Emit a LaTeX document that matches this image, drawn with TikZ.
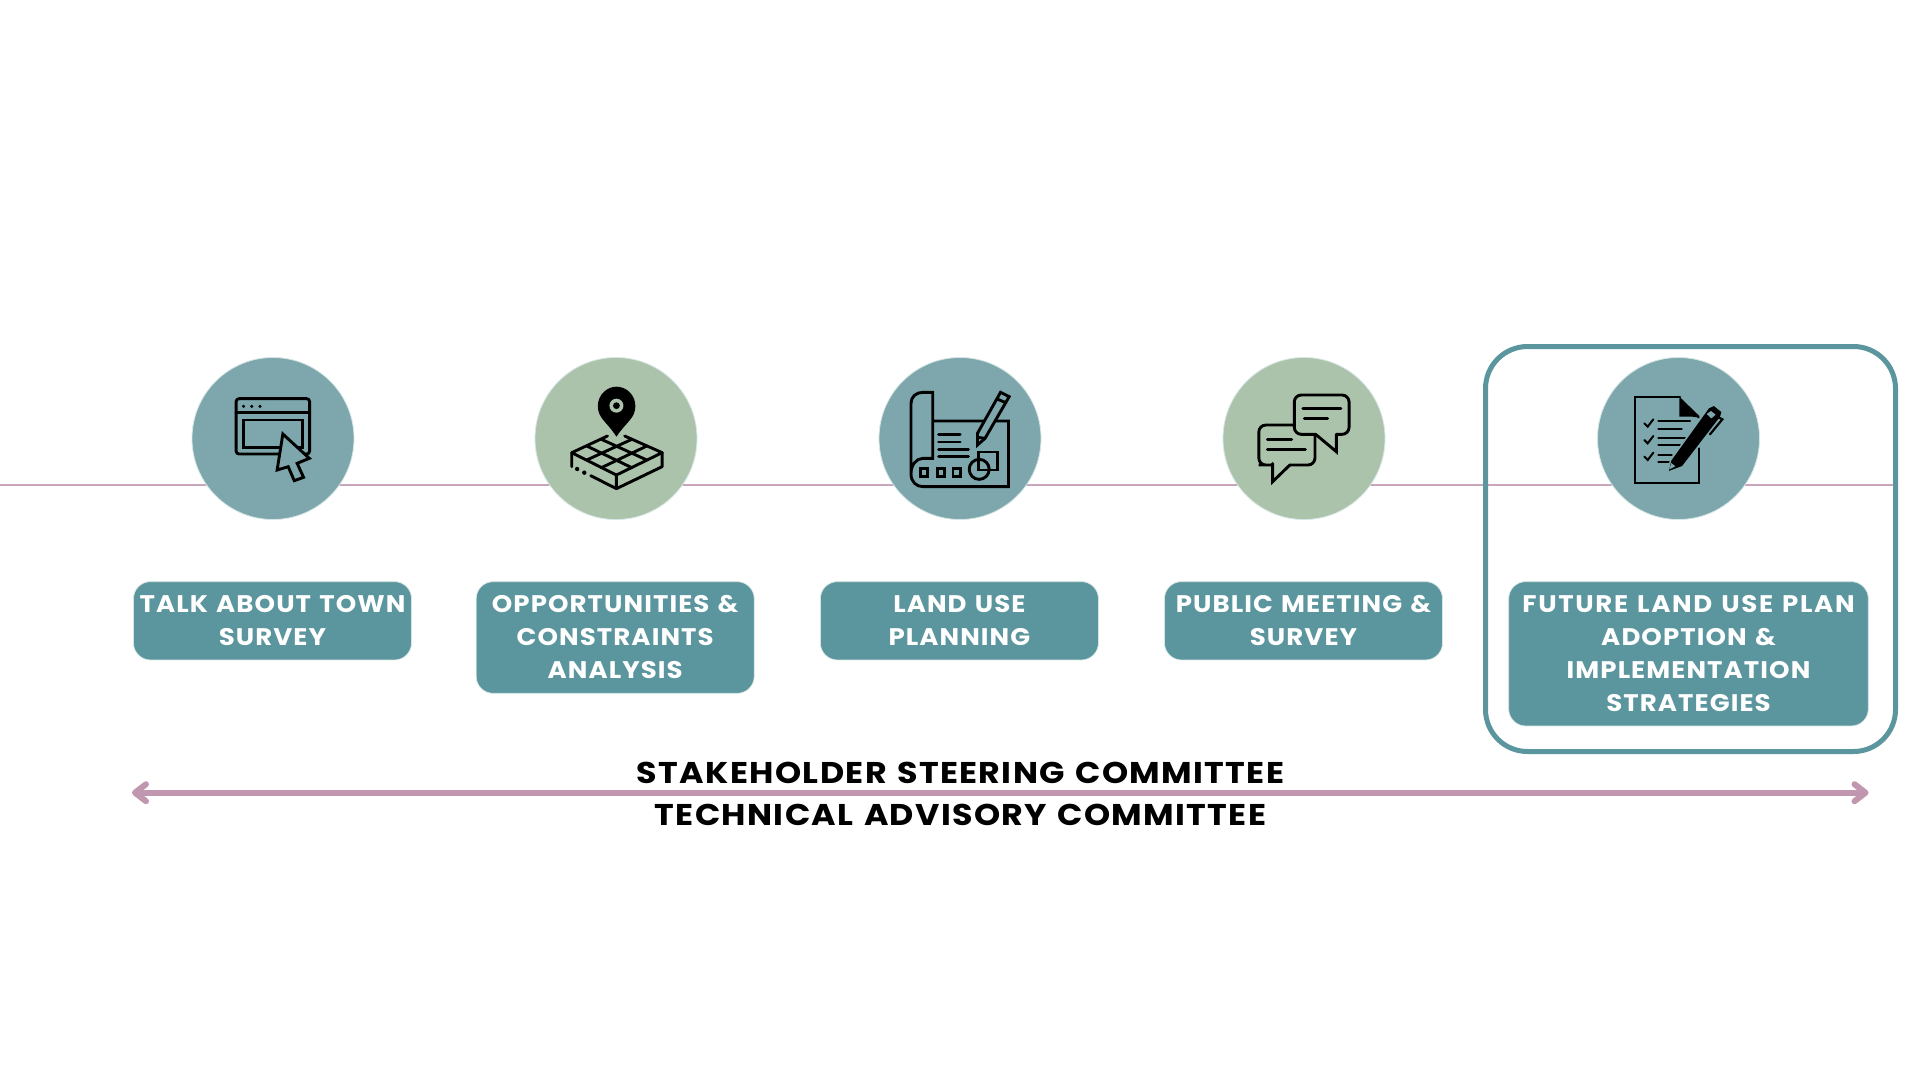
\documentclass[tikz,border=0pt]{standalone}
\usepackage{fontspec}
\usetikzlibrary{arrows.meta}
\newfontfamily\boxfont[LetterSpace=4.5,FakeStretch=1.085,WordSpace=1.25]{Poppins}
\newfontfamily\wideboxfont[LetterSpace=7,FakeStretch=1.085,WordSpace=1.25]{Poppins}
\newfontfamily\barfont[LetterSpace=4.5,FakeStretch=1.11,WordSpace=1.25]{Poppins}
\newcommand\capst{\rule[-3.7pt]{0pt}{24pt}}
\definecolor{tealc}{HTML}{7DA7AC}
\definecolor{greenc}{HTML}{ACC3AB}
\definecolor{boxc}{HTML}{5B959E}
\definecolor{rimc}{HTML}{D5E6E4}
\definecolor{linec}{HTML}{C9A6BC}
\definecolor{arrowc}{HTML}{C197AF}
\tikzset{
 stepcircle/.style={circle,minimum size=162pt,inner sep=0pt,draw=rimc,line width=0.8pt},
 stepbox/.style={rectangle,rounded corners=17pt,fill=boxc,draw=rimc,line width=0.7pt,inner sep=0pt,minimum width=278pt,
   text=white,align=center,font=\boxfont\bfseries\fontsize{24pt}{33pt}\selectfont},
 commlabel/.style={inner sep=0pt,font=\barfont\bfseries\fontsize{30pt}{34pt}\selectfont,text=black},
 ink/.style={draw=black,line width=2.9pt,line join=round,line cap=round},
 thinink/.style={draw=black,line width=2.2pt,line join=miter,line cap=round},
}
\begin{document}
\begin{tikzpicture}[x=1pt,y=-1pt]
\useasboundingbox (0,0) rectangle (1920,1080);
\fill[white] (0,0) rectangle (1920,1080);
\coordinate (ls) at (0,484.8);
\coordinate (le) at (1897,484.8);
\draw[linec,line width=2pt] (ls) -- (le);
\draw[boxc,line width=5pt,rounded corners=42pt] (1485.5,346.5) rectangle (1895.5,751.5);
\node[stepcircle,fill=tealc] (c1) at (273,438.5) {};
\node[stepcircle,fill=greenc] (c2) at (616,438.5) {};
\node[stepcircle,fill=tealc] (c3) at (960,438.5) {};
\node[stepcircle,fill=greenc] (c4) at (1304,438.5) {};
\node[stepcircle,fill=tealc] (c5) at (1678.5,438.5) {};
\node[stepbox,minimum height=78.3pt] (b1) at (272.5,620.8) {\capst TALK ABOUT TOWN\\\capst SURVEY};
\node[stepbox,minimum height=111.6pt] (b2) at (615.2,637.5) {\capst OPPORTUNITIES \&\\CONSTRAINTS\\\capst ANALYSIS};
\node[stepbox,minimum height=78.3pt] (b3) at (959.4,620.8) {\capst LAND USE\\\capst PLANNING};
\node[stepbox,minimum height=78.3pt] (b4) at (1303.5,620.8) {\capst PUBLIC MEETING \&\\\capst SURVEY};
\node[stepbox,minimum height=144.3pt,minimum width=359.6pt] (b5) at (1688.5,653.8) {\capst{\wideboxfont\bfseries FUTURE LAND USE PLAN}\\ADOPTION \&\\IMPLEMENTATION\\\capst STRATEGIES};
\coordinate (al) at (132,792.7);
\coordinate (ar) at (1868.5,792.7);
\draw[arrowc,line width=6pt,{Straight Barb[length=11pt,width=17pt,round]}-{Straight Barb[length=11pt,width=17pt,round]}] (al) -- (ar);
\node[commlabel] (t1) at (960.5,772.5) {STAKEHOLDER STEERING COMMITTEE};
\node[commlabel] (t2) at (960.5,814.5) {TECHNICAL ADVISORY COMMITTEE};
% icon 1: browser and cursor
\begin{scope}[shift={(180,350)},x=0.35714pt,y=-0.33333pt]
\draw[ink,rounded corners=3pt] (157,146) rectangle (363,312);
\draw[ink] (157,187) -- (363,187);
\fill (178,169) circle[radius=1.7pt] (201,169) circle[radius=1.7pt] (224,169) circle[radius=1.7pt];
\draw[ink,line join=miter] (178,210) rectangle (342,292);
\draw[ink,fill=tealc,line join=miter] (288,252) -- (362,325) -- (328,340) -- (346,382) -- (320,392) -- (303,350) -- (272,360) -- cycle;
\end{scope}
% icon 2: pin on a grid block
\begin{scope}[shift={(180,350)},x=0.35714pt,y=-0.33333pt]
\fill[black] (1222,260) .. controls (1195,215) and (1170,205) .. (1170,168) .. controls (1170,135) and (1195,110) .. (1222,110) .. controls (1250,110) and (1275,135) .. (1275,168) .. controls (1275,205) and (1250,215) .. (1222,260) -- cycle;
\fill[greenc] (1222,167) circle[radius=7pt];
\fill[black] (1222,167) circle[radius=3.4pt];
\draw[ink] (1197,258) -- (1097,308) -- (1222,375) -- (1350,308) -- (1245,258);
\draw[ink] (1139,288) -- (1265,353) (1180,268) -- (1307,330) (1139,330) -- (1265,268) (1180,353) -- (1307,288);
\draw[ink] (1097,308) -- (1097,350) (1150,377) -- (1222,416) -- (1350,350) -- (1350,308) (1222,375) -- (1222,416);
\fill (1112,357) circle[radius=2.2pt] (1132,368) circle[radius=2.2pt];
\end{scope}
% icon 3: plan and pencil
\begin{scope}[shift={(880,350)},x=0.34439pt,y=-0.33333pt]
\draw[ink,line join=miter] (153,213) -- (373,213) -- (373,410) -- (125,410) .. controls (105,410) and (90,395) .. (90,372) -- (90,160) .. controls (90,140) and (105,127) .. (125,127) -- (153,127) -- (153,325) -- (125,325) .. controls (105,325) and (90,345) .. (90,372);
\draw[ink] (170,253) -- (233,253) (170,276) -- (233,276) (170,298) -- (257,298) (170,320) -- (257,320);
\draw[ink,line join=miter] (118,355) rectangle (138,380) (167,355) rectangle (187,380) (212,355) rectangle (235,380);
\draw[ink,line join=miter] (287,306) rectangle (340,360);
\draw[ink] (288,358) ellipse[x radius=10pt,y radius=10pt];
\draw[ink,fill=tealc,line join=miter] (283,285) -- (283,250) -- (350,127) -- (375,140) -- (305,265) -- cycle;
\draw[ink] (340,147) -- (365,158) (283,262) -- (305,265);
\end{scope}
% icon 4: speech bubbles
\begin{scope}[shift={(880,350)},x=0.34439pt,y=-0.33333pt]
\draw[ink,line join=miter,rounded corners=7pt] (1140,345) -- (1120,345) -- (1100,345) -- (1100,225) -- (1263,225) -- (1263,345) -- (1190,345);
\draw[ink,line join=miter] (1140,340) -- (1140,395) -- (1190,345);
\draw[ink,fill=greenc,line join=miter,rounded corners=7pt] (1265,253) -- (1203,253) -- (1203,135) -- (1362,135) -- (1362,253) -- (1325,253);
\fill[greenc] (1265,245) rectangle (1325,258);
\draw[ink,line join=miter] (1265,253) -- (1325,305) -- (1325,253);
\draw[ink] (1228,175) -- (1338,175) (1232,205) -- (1300,205) (1125,268) -- (1195,268) (1125,298) -- (1235,298);
\end{scope}
% icon 5: checklist and pen
\begin{scope}[shift={(1490,340)},x=0.33333pt,y=-0.33333pt]
\draw[thinink,line join=miter] (570,170) -- (435,170) -- (435,430) -- (627,430) -- (627,325);
\fill[black] (568,170) -- (628,228) -- (628,236) .. controls (620,228) and (600,230) .. (568,230) -- cycle;
\draw[line width=2pt,line cap=round,line join=miter] (463,250) -- (473,260) -- (490,238) (463,300) -- (473,310) -- (490,288) (463,350) -- (473,360) -- (490,338);
\draw[thinink] (505,244) -- (600,244) (505,266) -- (575,266) (505,295) -- (585,295) (505,315) -- (570,315) (505,345) -- (545,345) (505,366) -- (540,366);
\fill[black,draw=tealc,line width=1.5pt] (533,397) -- (542,360) -- (655,203) -- (672,195) -- (697,215) -- (692,232) -- (578,380) -- cycle;
\fill[tealc] (650,222) -- (663,213) -- (677,224) -- (664,235) -- cycle;
\fill[tealc] (538,388) -- (544,369) -- (556,379) -- cycle;
\draw[thinink] (678,228) -- (697,238) -- (660,283);
\end{scope}
\end{tikzpicture}
\end{document}
